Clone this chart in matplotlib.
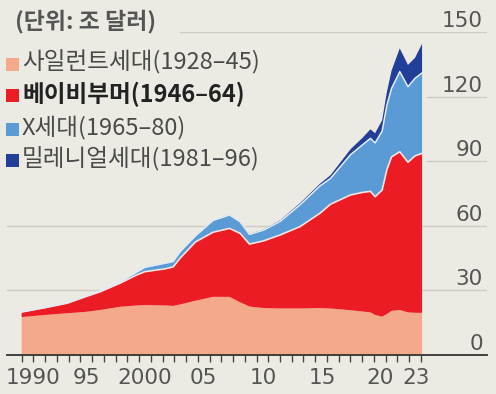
import matplotlib.pyplot as plt
from matplotlib.patches import Rectangle
from matplotlib.transforms import blended_transform_factory
import numpy as np

# Household wealth by generation (trillion dollars)
years = [1990.0, 1992.0, 1993.9, 1995.4, 1996.7, 1998.4, 1999.8, 2000.5, 2002.2, 2002.9,
         2003.5, 2004.8, 2006.3, 2007.7, 2008.6, 2009.4, 2010.6, 2012.0, 2013.7, 2015.4,
         2016.3, 2018.0, 2019.0, 2019.7, 2020.1, 2020.7, 2021.1, 2021.5, 2022.2, 2022.9,
         2023.5, 2024.1]
silent = [17.6, 18.6, 19.4, 20.0, 20.9, 22.4, 23.0, 23.2, 23.0, 22.8,
          23.5, 25.2, 27.0, 27.0, 24.5, 22.5, 21.8, 21.6, 21.6, 21.8,
          21.6, 20.8, 20.2, 19.8, 18.6, 17.8, 19.0, 20.5, 20.9, 19.8,
          19.6, 19.6]
boomers = [2.4, 3.4, 4.7, 7.0, 8.5, 11.0, 14.2, 15.5, 17.0, 18.1,
           21.5, 27.3, 30.0, 31.8, 32.0, 29.0, 31.2, 34.1, 38.0, 44.0,
           48.4, 53.5, 55.3, 56.2, 54.9, 58.8, 67.0, 71.5, 73.5, 69.7,
           72.9, 74.0]
genx = [0.0, 0.1, 0.2, 0.3, 0.4, 0.6, 1.3, 2.0, 2.6, 2.5,
        3.0, 2.8, 5.5, 6.2, 5.4, 4.5, 5.0, 6.3, 10.1, 12.7,
        12.0, 18.7, 22.0, 24.6, 25.0, 27.4, 30.0, 31.8, 37.2, 35.1,
        36.0, 37.4]
millennials = [0.0, 0.0, 0.0, 0.0, 0.0, 0.0, 0.0, 0.0, 0.0, 0.0,
               0.0, 0.0, 0.0, 0.2, 0.2, 0.2, 0.3, 0.5, 0.8, 1.0,
               1.5, 2.5, 3.2, 4.2, 4.5, 5.0, 6.0, 8.2, 10.8, 10.1,
               9.5, 13.5]

labels = ["사일런트세대(1928–45)", "베이비부머(1946–64)", "X세대(1965–80)", "밀레니얼세대(1981–96)"]
colors = ["#F5A98B", "#EC1C24", "#5B9BD5", "#213F99"]
title = "(단위: 조 달러)"

xtick_pos = [1990.95, 1995.5, 2000.5, 2005.5, 2010.6, 2015.6, 2020.5, 2023.6]
xtick_labels = ["1990", "95", "2000", "05", "10", "15", "20", "23"]
yticks = [0, 30, 60, 90, 120, 150]

BG = "#ECEBE3"
GRID = "#CDCCC4"
KR = "Noto Sans CJK KR"
NUM = ["Liberation Sans Narrow", "DejaVu Sans"]

W, H = 496, 394
fig = plt.figure(figsize=(W / 100, H / 100), dpi=100)
fig.patch.set_facecolor(BG)
ax = fig.add_axes([7 / W, 39 / H, 480 / W, 323 / H])
ax.set_facecolor(BG)
ax.set_xlim(1988.75, 2029.63)
ax.set_ylim(0, 150)

# gridlines: some are hidden behind the title/legend block in the original
ax.axhline(30, color=GRID, lw=1, zorder=0.5)
ax.axhline(60, color=GRID, lw=1, zorder=0.5)
ax.axhline(90, xmin=0.875, color=GRID, lw=1, zorder=0.5)
ax.axhline(120, xmin=0.875, color=GRID, lw=1, zorder=0.5)
ax.axhline(150, xmin=0.36, color=GRID, lw=1, zorder=0.5)

ax.stackplot(years, silent, boomers, genx, millennials, colors=colors,
             linewidth=0, zorder=2)

# pale outlines between the layers
sb = np.array(silent) + np.array(boomers)
sbx = sb + np.array(genx)
ax.plot(years, sb, color="#F4E4E0", lw=1.2, zorder=3)
ax.plot(years, sbx, color="#E2ECF6", lw=1.1, zorder=3)

for sp in ["top", "left", "right"]:
    ax.spines[sp].set_visible(False)
ax.spines["bottom"].set_color("#333333")
ax.spines["bottom"].set_linewidth(1.3)
ax.spines["bottom"].set_zorder(4)

ax.set_yticks([])
ax.set_xticks(np.arange(1990, 2025))
ax.set_xticklabels([])
ax.set_xticks(xtick_pos, labels=xtick_labels, minor=True)
ax.tick_params(axis="x", which="major", length=5, width=1, color="#444444")
ax.tick_params(axis="x", which="minor", length=0, pad=9, labelsize=15.5,
               labelcolor="#555555")
for t in ax.get_xticklabels(minor=True):
    t.set_family(NUM)

trans = blended_transform_factory(ax.transAxes, ax.transData)
for v in yticks:
    ax.text(476 / 480, v + 2.3, str(v), transform=trans, ha="right", va="baseline",
            fontsize=15.5, color="#555555", family=NUM, clip_on=False)

# title and legend
fig.text(15 / W, 1 - 21 / H, title, ha="left", va="center", fontsize=16.5,
         fontweight="bold", color="#555555", family=KR)

sq_y = [64.5, 95.5, 129.5, 160.5]
txt_y = [62, 94, 127.5, 159]
for i, lab in enumerate(labels):
    fig.add_artist(Rectangle((6 / W, 1 - (sq_y[i] + 6.5) / H), 13 / W, 13 / H,
                             transform=fig.transFigure, color=colors[i], lw=0))
    fig.text(22 / W, 1 - txt_y[i] / H, lab, ha="left", va="center", fontsize=17,
             fontweight="bold" if i == 1 else "normal",
             color="#222222" if i == 1 else "#4A4A4A", family=KR)

fig.savefig("out.png", dpi=100, facecolor=BG)
